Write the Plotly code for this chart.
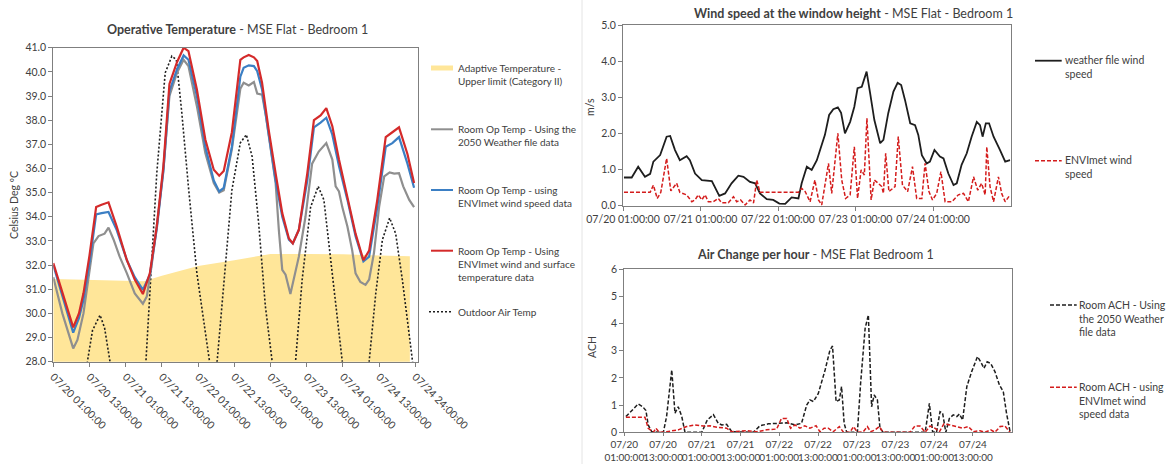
import plotly.graph_objects as go

W, H = 1169, 464
FONT = "Lato, sans-serif"
TXT = "#404040"

# ---------------- data (hours after 07/20 01:00) ----------------
# Operative temperature, deg C
OP_ENVIMET_WIND_SURF = [
    (0, 32.08), (3, 30.85), (6.6, 29.42), (8.5, 30.0), (10, 30.83), (12, 32.4), (13.3, 33.6),
    (14.2, 34.4), (16, 34.5), (18.3, 34.6), (21, 33.6), (24.4, 32.2), (27, 31.4), (29.7, 30.8),
    (32, 31.66), (34.3, 33.6), (36.5, 36.1), (38.5, 39.5), (41, 40.4), (43.2, 41.0), (44.8, 40.86),
    (47.6, 39.27), (50.4, 37.2), (53.2, 35.95), (55, 35.7), (56.5, 35.9), (59.2, 37.5), (62, 40.5),
    (63.1, 40.6), (64.8, 40.7), (66.5, 40.6), (67.6, 40.45), (69.2, 39.55), (71.4, 37.6),
    (73.7, 35.8), (75.9, 34.15), (78.1, 33.1), (79.4, 32.9), (81.4, 33.46), (84.2, 35.8),
    (86.4, 38.0), (88.6, 38.2), (90.5, 38.5), (92.5, 37.75), (94.7, 36.37), (97.5, 34.85),
    (100.2, 33.3), (102.8, 32.2), (104.7, 32.6), (107.4, 34.7), (110.2, 37.3), (112.4, 37.5),
    (114.6, 37.7), (117.4, 36.6), (119.6, 35.4),
]
OP_ENVIMET_WIND = [
    (0, 32.0), (3, 30.7), (6.6, 29.2), (8.5, 29.8), (10, 30.56), (12, 32.1), (13.3, 33.2),
    (14.2, 34.1), (16, 34.15), (18.3, 34.2), (21, 33.46), (24.4, 32.2), (27, 31.5), (29.7, 30.97),
    (32, 31.6), (34.3, 33.5), (36.5, 35.9), (38.5, 39.2), (41, 40.1), (43.2, 40.68), (44.8, 40.5),
    (47.6, 39.0), (50.4, 36.9), (53.2, 35.5), (55, 35.05), (56.5, 35.2), (59.2, 36.9), (62, 39.8),
    (63.1, 40.17), (64.8, 40.27), (66.5, 40.24), (67.6, 40.03), (69.2, 39.27), (71.4, 37.47),
    (73.7, 35.5), (75.9, 34.0), (78.1, 33.05), (79.4, 32.9), (81.4, 33.46), (84.2, 35.5),
    (86.4, 37.7), (88.6, 37.9), (90.5, 38.1), (92.5, 37.4), (94.7, 36.1), (97.5, 34.7),
    (100.2, 33.2), (102.8, 32.15), (104.7, 32.35), (107.4, 34.4), (110.2, 36.9), (112.4, 37.05),
    (114.6, 37.3), (117.4, 36.2), (119.6, 35.2),
]
OP_WEATHER_2050 = [
    (0, 31.5), (3, 30.0), (6.6, 28.55), (8, 28.9), (10, 30.0), (13.3, 32.9), (15, 33.2), (17, 33.3),
    (18.3, 33.55), (20, 33.05), (22, 32.35), (24.4, 31.66), (27, 30.83), (29.7, 30.4), (31, 30.7),
    (32.5, 31.9), (34.3, 33.6), (36.5, 35.95), (38.5, 39.0), (41, 39.96), (43.2, 40.5), (44.8, 40.24),
    (47.6, 38.58), (50.4, 36.64), (53.2, 35.4), (55, 35.0), (56.5, 35.1), (59.2, 36.8), (62, 39.3),
    (63.1, 39.55), (64.8, 39.44), (66.5, 39.58), (67.6, 39.1), (69.2, 39.06), (70.5, 38.16),
    (72, 36.9), (73.7, 35.4), (74.8, 33.4), (75.9, 31.8), (77, 31.6), (78.6, 30.8), (81.4, 32.35),
    (83.6, 34.0), (85.8, 36.2), (88, 36.7), (90.5, 37.05), (92.5, 36.37), (93.6, 35.26),
    (94.7, 35.05), (95.8, 34.4), (97.5, 33.6), (99.1, 32.6), (100.2, 31.66), (101.8, 31.3),
    (103.5, 31.18), (104.7, 31.4), (106.3, 32.5), (108, 34.4), (109.7, 35.67), (111.5, 35.84),
    (113, 35.79), (114.6, 35.81), (116, 35.26), (118, 34.7), (119.6, 34.4),
]
ADAPTIVE_UPPER = [
    (0, 31.42), (12, 31.38), (24, 31.33), (30, 31.33), (36, 31.56), (48, 31.96), (60, 32.2),
    (72, 32.46), (84, 32.46), (96, 32.45), (108, 32.4), (118.2, 32.37),
]
OUTDOOR_AIR = [
    (0, 25.5), (5, 24.0), (11.3, 28.0), (13, 29.3), (15.5, 29.93), (17, 29.4), (18.8, 28.0),
    (25, 22.5), (30.7, 28.0), (34.3, 35.8), (37.1, 39.96), (39.3, 40.65), (40.8, 40.5),
    (42.6, 38.3), (44.9, 35.1), (47.6, 31.66), (51.8, 28.0), (53, 27.0), (54.3, 28.0),
    (56.5, 31.25), (59.2, 35.1), (62, 37.06), (64.0, 37.4), (65.9, 36.5), (68.1, 33.7),
    (70.3, 30.3), (72.6, 28.0), (76.5, 24.0), (80.3, 28.0), (82.5, 31.4), (85.3, 34.4),
    (87.8, 35.26), (89.7, 34.7), (91.9, 32.35), (95.8, 28.0), (100.2, 24.5), (104.7, 28.0),
    (106.9, 30.83), (109.1, 33.05), (111.5, 33.95), (113.5, 33.3), (115.7, 31.4), (118.8, 28.0),
    (119.6, 27.5),
]

# Wind speed at the window height, m/s
WIND_WEATHER = [
    (0.3, 0.78), (2.7, 0.78), (4.7, 1.08), (6.8, 0.80), (8.4, 0.88), (9.4, 1.22), (11.5, 1.40),
    (13.5, 1.91), (14.6, 1.93), (16.1, 1.54), (17.6, 1.26), (18.7, 1.31), (19.7, 1.37), (20.7, 1.26),
    (22.3, 0.89), (24.4, 0.71), (27.5, 0.68), (29.8, 0.27), (31.6, 0.34), (33.6, 0.62), (35.7, 0.83),
    (37.3, 0.80), (39.3, 0.66), (40.9, 0.62), (42.4, 0.34), (44.5, 0.18), (46.5, 0.16), (48.4, 0.06),
    (50.2, 0.05), (52.2, 0.23), (54.3, 0.20), (55.3, 0.62), (56.9, 1.08), (58.4, 0.99), (60.0, 1.26),
    (61.0, 1.54), (62.5, 1.96), (63.8, 2.51), (65.1, 2.67), (66.5, 2.72), (67.5, 2.57), (68.7, 2.0),
    (70.3, 2.32), (71.6, 2.74), (72.6, 3.25), (73.9, 3.29), (75.4, 3.71), (76.5, 3.11), (77.8, 2.37),
    (79.6, 1.73), (80.6, 1.82), (82.1, 2.56), (83.7, 3.16), (85.0, 3.40), (86.1, 3.34), (87.3, 2.92),
    (88.9, 2.28), (90.4, 2.23), (91.4, 1.96), (92.5, 1.40), (94.0, 1.17), (95.0, 1.22), (96.4, 1.54),
    (98.1, 1.36), (99.2, 1.31), (100.7, 0.89), (102.3, 0.57), (103.3, 0.62), (104.8, 1.13),
    (106.4, 1.45), (107.9, 1.91), (109.5, 2.32), (110.5, 2.23), (111.3, 1.91), (112.3, 2.28),
    (113.3, 2.28), (114.7, 1.91), (116.7, 1.54), (118.3, 1.22), (119.8, 1.26),
]
WIND_ENVIMET = [
    (0.3, 0.37), (8.4, 0.37), (9.4, 0.57), (10.6, 0.20), (11.7, 0.37), (13.5, 1.31), (14.8, 0.41),
    (16.6, 0.62), (17.6, 0.37), (18.7, 0.34), (19.7, 0.30), (21.3, 0.11), (22.3, 0.16), (23.3, 0.30),
    (24.4, 0.16), (25.4, 0.30), (26.4, 0.11), (28.0, 0.11), (29.5, 0.20), (30.5, 0.08), (32.6, 0.08),
    (34.2, 0.25), (35.2, 0.11), (36.4, 0.16), (37.8, 0.02), (39.3, 0.16), (40.4, 0.08), (41.4, 0.71),
    (42.4, 0.37), (54.3, 0.37), (55.3, 0.48), (56.4, 0.39), (57.9, 0.11), (59.4, 0.71), (60.5, 0.16),
    (61.5, 0.02), (63.6, 1.17), (64.6, 0.34), (66.5, 2.0), (67.7, 0.71), (68.9, 0.20), (70.3, 0.30),
    (71.6, 1.63), (72.6, 0.20), (73.7, 0.99), (74.7, 0.85), (75.5, 2.42), (76.8, 0.16), (77.8, 0.71),
    (79.0, 0.62), (80.1, 0.53), (80.6, 0.34), (81.3, 1.45), (82.3, 0.39), (84.2, 0.53), (85.2, 1.91),
    (86.5, 0.57), (88.1, 0.39), (89.6, 1.08), (90.9, 0.20), (92.5, 0.20), (93.5, 1.17), (94.7, 0.39),
    (95.8, 0.16), (97.1, 0.34), (98.4, 0.94), (99.7, 0.11), (101.8, 0.11), (103.8, 0.30),
    (105.4, 0.34), (106.9, 0.11), (108.5, 0.80), (109.8, 0.43), (111.0, 0.62), (112.1, 0.30),
    (112.6, 1.63), (113.6, 0.53), (114.7, 0.11), (116.2, 0.80), (117.2, 0.34), (118.3, 0.11),
    (119.8, 0.30),
]

# Air change per hour
ACH_WEATHER_2050 = [
    (0.5, 0.58), (1.8, 0.72), (3.0, 0.88), (4.3, 1.04), (5.7, 0.94), (6.7, 0.80), (7.4, 0.27),
    (8.5, 0.02), (12.1, 0), (13.1, 0.58), (14.7, 2.29), (15.7, 0.70), (16.7, 0.94), (17.8, 0.58),
    (18.8, 0), (24, 0), (25.7, 0.45), (27.6, 0.65), (29.1, 0.33), (30.2, 0.27), (31.7, 0.29),
    (33.3, 0.02), (40, 0), (42, 0.24), (44.6, 0.31), (47.7, 0.33), (50.3, 0.35), (52.9, 0.27),
    (54.9, 0.33), (56.5, 1.0), (57.5, 1.19), (58.6, 1.13), (60.1, 1.43), (62.2, 2.29), (63.7, 3.02),
    (64.5, 3.17), (65.6, 1.13), (66.6, 1.19), (67.3, 1.68), (68.1, 0.33), (68.9, 0), (72.2, 0),
    (73.2, 1.80), (74.6, 3.82), (75.6, 4.31), (76.6, 0.94), (77.4, 1.37), (78.4, 1.19), (79.2, 0.15),
    (80.2, 0), (93.2, 0), (94.5, 1.06), (95.5, 0.02), (96.7, 0), (97.8, 0.76), (98.6, 0.70),
    (99.6, 0), (100.7, 0.51), (101.9, 0.64), (103, 0.58), (103.8, 0.67), (104.8, 0.45),
    (106.1, 1.68), (107.6, 2.23), (109.4, 2.78), (110.4, 2.59), (111.4, 2.35), (112.4, 2.59),
    (113.5, 2.53), (114.8, 2.23), (116.2, 1.74), (117.4, 1.49), (118.4, 0.70), (119.5, 0.02),
]
ACH_ENVIMET_WIND = [
    (0.5, 0.55), (6.4, 0.55), (7.4, 0.15), (9, 0), (9.8, 0.15), (10.8, 0), (13.1, 0.02),
    (16.7, 0.09), (19.3, 0.21), (21.9, 0.27), (24.5, 0.23), (26.5, 0.24), (29.1, 0.18), (31.7, 0.15),
    (33.3, 0.02), (35.8, 0.04), (37.9, 0.06), (41, 0.02), (44.1, 0.09), (47.2, 0.12), (48.7, 0.51),
    (50.3, 0.51), (51.5, 0.15), (52.9, 0.27), (54.4, 0.15), (55.9, 0.24), (57.5, 0.15), (59.4, 0.24),
    (60.6, 0.02), (61.9, 0.15), (63.2, 0.15), (64.7, 0.02), (66.6, 0.21), (67.9, 0), (69.9, 0),
    (71, 0.21), (72.2, 0), (74, 0.02), (75.3, 0.21), (76.3, 0.02), (77.7, 0.09), (79, 0.21),
    (80.2, 0), (88.5, 0), (90, 0.23), (91.6, 0.23), (93.2, 0), (94.7, 0.23), (96.2, 0.15),
    (97.6, 0.02), (99, 0.31), (100.9, 0.27), (103, 0.21), (104.8, 0.15), (106.6, 0.21),
    (108.1, 0.02), (110.2, 0.06), (111.7, 0), (113.5, 0.09), (114.8, 0), (116.4, 0.21),
    (117.9, 0.23), (119.5, 0),
]

# Tick positions (hours) and labels
TEMP_TICK_HOURS = [0, 12, 24, 36, 48, 60, 72, 84, 96, 108, 120]
TEMP_TICK_TEXT = ["07/20 01:00:00", "07/20 13:00:00", "07/21 01:00:00", "07/21 13:00:00",
                  "07/22 01:00:00", "07/22 13:00:00", "07/23 01:00:00", "07/23 13:00:00",
                  "07/24 01:00:00", "07/24 13:00:00", "07/24 24:00:00"]
WIND_TICK_HOURS = [0, 24, 48, 72, 96]
WIND_TICK_TEXT = ["07/20 01:00:00", "07/21 01:00:00", "07/22 01:00:00",
                  "07/23 01:00:00", "07/24 01:00:00"]
ACH_TICK_HOURS = [0, 12, 24, 36, 48, 60, 72, 84, 96, 108]
ACH_TICK_TEXT = ["07/20<br>01:00:00", "07/20<br>13:00:00", "07/21<br>01:00:00", "07/21<br>13:00:00",
                 "07/22<br>01:00:00", "07/22<br>13:00:00", "07/23<br>01:00:00", "07/23<br>13:00:00",
                 "07/24<br>01:00:00", "07/24<br>13:00:00"]


def xs(series):
    return [p[0] for p in series]


def ys(series):
    return [p[1] for p in series]


def px(x):
    return x / W


def py(y):
    return 1 - y / H


RED = "#d42a2a"
BLUE = "#3b7fc4"
GREY = "#8f8f8f"
YELLOW = "#ffe699"
BLACK = "#1e1e1e"
WRED = "#d41c1c"

fig = go.Figure()

# --- operative temperature panel ---
fig.add_trace(go.Scatter(x=xs(ADAPTIVE_UPPER), y=ys(ADAPTIVE_UPPER), mode="lines",
                         line=dict(width=0, color=YELLOW), fill="tozeroy",
                         fillcolor=YELLOW, xaxis="x", yaxis="y"))
fig.add_trace(go.Scatter(x=xs(OUTDOOR_AIR), y=ys(OUTDOOR_AIR), mode="lines",
                         line=dict(width=1.6, color=BLACK, dash="2px,2px"), xaxis="x", yaxis="y"))
fig.add_trace(go.Scatter(x=xs(OP_WEATHER_2050), y=ys(OP_WEATHER_2050), mode="lines",
                         line=dict(width=2.2, color=GREY), xaxis="x", yaxis="y"))
fig.add_trace(go.Scatter(x=xs(OP_ENVIMET_WIND), y=ys(OP_ENVIMET_WIND), mode="lines",
                         line=dict(width=2.2, color=BLUE), xaxis="x", yaxis="y"))
fig.add_trace(go.Scatter(x=xs(OP_ENVIMET_WIND_SURF), y=ys(OP_ENVIMET_WIND_SURF), mode="lines",
                         line=dict(width=2.2, color=RED), xaxis="x", yaxis="y"))

# --- wind speed panel ---
fig.add_trace(go.Scatter(x=xs(WIND_WEATHER), y=ys(WIND_WEATHER), mode="lines",
                         line=dict(width=1.8, color=BLACK), xaxis="x2", yaxis="y2"))
fig.add_trace(go.Scatter(x=xs(WIND_ENVIMET), y=ys(WIND_ENVIMET), mode="lines",
                         line=dict(width=1.5, color=WRED, dash="4px,2px"), xaxis="x2", yaxis="y2"))

# --- air change panel ---
fig.add_trace(go.Scatter(x=xs(ACH_WEATHER_2050), y=ys(ACH_WEATHER_2050), mode="lines",
                         line=dict(width=1.5, color=BLACK, dash="4px,2px"), xaxis="x3", yaxis="y3"))
fig.add_trace(go.Scatter(x=xs(ACH_ENVIMET_WIND), y=ys(ACH_ENVIMET_WIND), mode="lines",
                         line=dict(width=1.5, color=WRED, dash="4px,2px"), xaxis="x3", yaxis="y3"))

tickfont = dict(family=FONT, size=10.5, color=TXT)
common = dict(showgrid=False, zeroline=False, showline=True, mirror=True, ticks="outside",
              ticklen=4, tickcolor="#7f7f7f", linecolor="#7f7f7f", linewidth=1,
              tickfont=tickfont, automargin=False)
ach_x = dict(common, ticklen=3, tickfont=dict(family=FONT, size=10, color=TXT))

fig.update_layout(
    template="none",
    width=W, height=H, margin=dict(l=0, r=0, t=0, b=0, pad=0, autoexpand=False),
    paper_bgcolor="white", plot_bgcolor="white", showlegend=False,
    font=dict(family=FONT, color=TXT),
    xaxis=dict(domain=[px(53.3), px(417.7)], range=[0, 120.8], anchor="y",
               tickmode="array", tickvals=TEMP_TICK_HOURS, ticktext=TEMP_TICK_TEXT,
               tickangle=45, **common),
    yaxis=dict(domain=[py(361.7), py(47.7)], range=[28, 41], anchor="x",
               dtick=1, tickformat=".1f", **common),
    xaxis2=dict(domain=[px(623), px(1010.7)], range=[0, 120], anchor="y2",
                tickmode="array", tickvals=WIND_TICK_HOURS, ticktext=WIND_TICK_TEXT,
                tickangle=0, **common),
    yaxis2=dict(domain=[py(205.7), py(25)], range=[0, 5], anchor="x2",
                dtick=1, tickformat=".1f", **common),
    xaxis3=dict(domain=[px(624.3), px(1011.7)], range=[0, 120], anchor="y3",
                tickmode="array", tickvals=ACH_TICK_HOURS, ticktext=ACH_TICK_TEXT,
                tickangle=0, **ach_x),
    yaxis3=dict(domain=[py(432.3), py(269)], range=[0, 6], anchor="x3",
                dtick=1, tickformat="d", **common),
)

ann = []
shapes = []


def text(x, y, s, size=10.5, anchor="left", angle=0, yanchor="middle"):
    ann.append(dict(x=px(x), y=py(y), xref="paper", yref="paper", text=s, showarrow=False,
                    xanchor=anchor, yanchor=yanchor, textangle=angle, align="left",
                    borderpad=0, font=dict(family=FONT, size=size, color=TXT)))


def hline(x0, x1, y, color, width=1.5, dash="solid"):
    shapes.append(dict(type="line", xref="paper", yref="paper", x0=px(x0), x1=px(x1),
                       y0=py(y), y1=py(y), line=dict(color=color, width=width, dash=dash)))


# titles
text(237, 29, "<b>Operative Temperature</b> - MSE Flat - Bedroom 1", size=12.5, anchor="center")
text(853, 13, "<b>Wind speed at the window height</b> - MSE Flat - Bedroom 1", size=12.5, anchor="center")
text(815, 254, "<b>Air Change per hour</b> - MSE Flat Bedroom 1", size=12.5, anchor="center")

# axis titles
text(14, 205, "Celsius Deg ºC", angle=-90, anchor="center")
text(590, 107, "m/s", angle=-90, anchor="center")
text(592, 347, "ACH", angle=-90, anchor="center")

# legend of the operative temperature panel
LEG_X = 457
shapes.append(dict(type="rect", xref="paper", yref="paper", x0=px(431), x1=px(453),
                   y0=py(70.5), y1=py(65.5), line=dict(width=0), fillcolor=YELLOW))
text(LEG_X, 61, "Adaptive Temperature -<br>Upper limit (Category II)", size=10, yanchor="top")
hline(431, 453, 129.3, GREY, 2)
text(LEG_X, 122, "Room Op Temp - Using the<br>2050 Weather file data", size=10, yanchor="top")
hline(431, 453, 190, BLUE, 2)
text(LEG_X, 183, "Room Op Temp - using<br>ENVImet wind speed data", size=10, yanchor="top")
hline(431, 453, 250.7, RED, 2)
text(LEG_X, 243.5, "Room Op Temp - Using<br>ENVImet wind and surface<br>temperature data", size=10, yanchor="top")
hline(429, 453, 311.7, BLACK, 1.5, "2px,2px")
text(LEG_X, 311.7, "Outdoor Air Temp", size=10)

# legend of the wind panel
hline(1035, 1061.7, 60.7, BLACK, 1.8)
text(1063.5, 53, "weather file wind<br>speed", yanchor="top")
hline(1035, 1061.7, 160.7, WRED, 1.5, "4px,2px")
text(1063.5, 153, "ENVImet wind<br>speed", yanchor="top")

# legend of the air change panel
hline(1050, 1076.7, 305, BLACK, 1.5, "4px,2px")
text(1078, 297.5, "Room ACH - Using<br>the 2050 Weather<br>file data", yanchor="top")
hline(1050, 1076.7, 387.3, WRED, 1.5, "4px,2px")
text(1078, 380, "Room ACH - using<br>ENVImet wind<br>speed data", yanchor="top")

# thin panel separator
shapes.append(dict(type="line", xref="paper", yref="paper", x0=px(582), x1=px(582),
                   y0=0, y1=1, line=dict(color="#e4e4e4", width=1)))

fig.update_layout(annotations=ann, shapes=shapes)
fig.write_html("out.html")
